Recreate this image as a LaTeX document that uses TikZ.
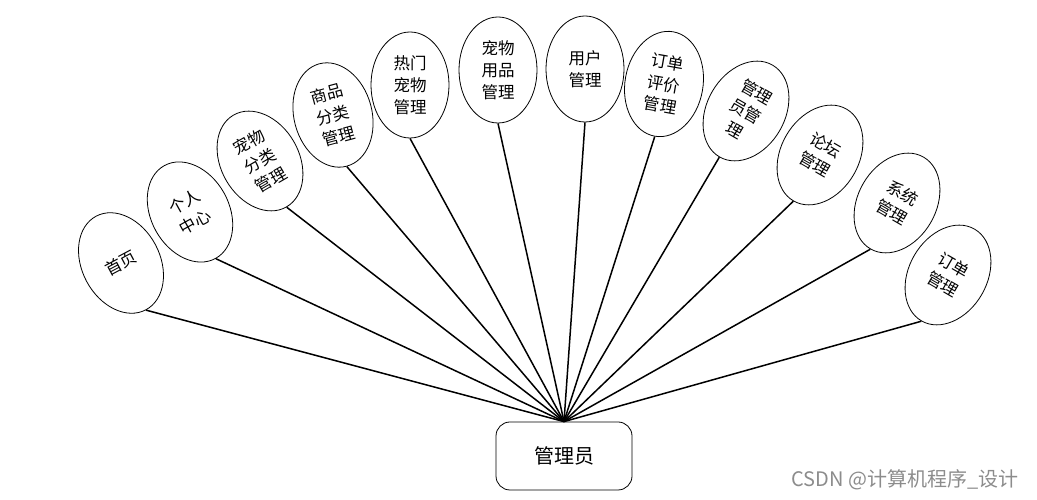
\documentclass[tikz,border=0pt]{standalone}
\usepackage{fontspec}
\setmainfont{Noto Sans CJK SC}
\usetikzlibrary{shapes.geometric}
\begin{document}
\begin{tikzpicture}[x=1pt,y=1pt]

        \useasboundingbox (0,0) rectangle (1037,500);

        \begin{scope}[every node/.style={ellipse,draw,line width=0.8pt,inner sep=0pt,
            minimum width=78pt,minimum height=106pt,align=center,
            font=\fontsize{16.5pt}{22pt}\selectfont}]
          \node[rotate=28]  (1)  at (121,237) {首页};
          \node[rotate=29]  (2)  at (190,288) {个人\\中心};
          \node[rotate=30]  (3)  at (260,339) {宠物\\分类\\管理};
          \node[rotate=15]  (4)  at (333,385) {商品\\分类\\管理};
          \node             (5)  at (410,415) {热门\\宠物\\管理};
          \node             (6)  at (498,430) {宠物\\用品\\管理};
          \node             (7)  at (585,431) {用户\\管理};
          \node[rotate=-10] (8)  at (664,416) {订单\\评价\\管理};
          \node[rotate=-30] (9)  at (746,389) {管理\\员管\\理};
          \node[rotate=-30] (10) at (820,345) {论坛\\管理};
          \node[rotate=-30] (11) at (897,297) {系统\\管理};
          \node[rotate=-30] (12) at (948,225) {订单\\管理};
        \end{scope}

        \node[draw,rounded corners=14pt,line width=0.8pt,minimum width=136pt,
          minimum height=68pt,font=\fontsize{20pt}{22pt}\selectfont] (admin) at (564,44) {管理员};

        \node[anchor=east,text=black!45,font=\fontsize{20pt}{22pt}\selectfont] (mark) at (1022,20) {CSDN @计算机程序\_设计};

        \begin{scope}[every edge/.style={draw,line width=1.5pt}]
          \path (1.south)  edge (admin.north);
          \path (2.south)  edge (admin.north);
          \path (3.south)  edge (admin.north);
          \path (4.south)  edge (admin.north);
          \path (5.south)  edge (admin.north);
          \path (6.south)  edge (admin.north);
          \path (7.south)  edge (admin.north);
          \path (8.south)  edge (admin.north);
          \path (9.south)  edge (admin.north);
          \path (10.south) edge (admin.north);
          \path (11.south) edge (admin.north);
          \path (12.south) edge (admin.north);
        \end{scope}

      \end{tikzpicture}
\end{document}
